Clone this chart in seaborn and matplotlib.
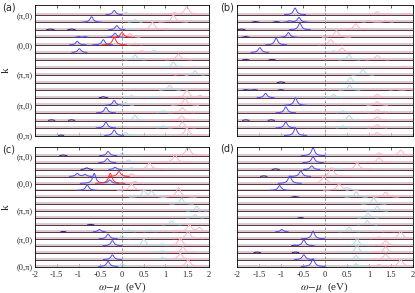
import numpy as np
import pandas as pd
import seaborn as sns
import matplotlib
matplotlib.use("Agg")
import matplotlib.pyplot as plt

sns.set_theme(style="ticks")
plt.rcParams['font.family'] = ['Liberation Serif', 'DejaVu Serif']
plt.rcParams['mathtext.fontset'] = 'stix'

# k-path labels, row 0 is the top row
k_ticks = [16, 12, 8, 4, 0]
k_labels = ['(π,0)', '(0,0)', '(π,π)', '(π,0)', '(0,π)']
x_ticks = [-2, -1.5, -1, -0.5, 0, 0.5, 1, 1.5, 2]
x_labels = ['-2', '-1.5', '-1', '-0.5', '0', '0.5', '1', '1.5', '2']
n_rows = 17

# peaks: (row, centre eV, height in row units)
a_blue = [(0, -0.18, 0.57), (1, -0.70, 0.75), (2, -0.12, 0.57), (3, -0.16, 0.57),
          (3, -1.0, 0.12), (3, -0.85, 0.1), (4, -1.03, 0.48), (4, -0.43, 0.7),
          (5, -0.98, 0.5), (12, -0.18, 0.65), (13, -0.37, 0.75), (15, -0.37, 0.8),
          (16, -0.18, 0.75)]
a_red = [(3, 0.0, 0.65), (4, -0.18, 1.0)]
a_navy = [(2, -1.65, 0.12), (2, -1.16, 0.12), (11, -0.43, 0.15), (14, -1.62, 0.1),
          (14, -1.16, 0.1), (16, -1.4, 0.08)]
a_cyan = [(0, 0.09, 0.35), (1, 0.30, 0.35), (2, 0.2, 0.2), (5, 0.74, 0.3), (6, 0.30, 0.7),
          (7, 1.18, 0.75), (8, 1.68, 0.6), (9, 1.33, 0.15), (10, 1.10, 0.7), (11, 0.22, 0.3),
          (11, 0.7, 0.15), (12, 0.09, 0.4), (13, 0.95, 0.3), (14, 0.30, 0.7), (15, 0.95, 0.3),
          (16, 0.09, 0.4)]
a_pink = [(0, 1.49, 1.1), (0, 1.2, 0.25), (1, 1.18, 0.95), (2, 0.70, 1.0), (3, 0.18, 0.5),
          (4, 0.30, 0.25), (5, 0.45, 0.25), (6, 1.30, 0.8), (7, 1.33, 0.2), (8, 1.35, 0.2),
          (11, 1.49, 1.0), (11, 1.8, 0.3), (12, 1.45, 0.85), (13, 1.39, 0.7), (14, 1.37, 0.6),
          (15, 1.39, 0.8), (16, 1.49, 1.0)]

b_blue = [(0, -0.68, 0.9), (1, -0.59, 0.65), (1, -0.8, 0.2), (2, -0.57, 0.9), (3, -0.83, 0.65),
          (4, -1.11, 0.9), (5, -1.48, 0.65), (11, -1.35, 0.6), (12, -0.67, 1.0),
          (13, -0.89, 0.8), (15, -0.89, 0.8), (16, -0.67, 1.0)]
b_red = []
b_navy = [(1, -1.58, 0.1), (1, -1.1, 0.1), (2, -1.9, 0.12), (3, -1.8, 0.12), (6, -1.8, 0.1),
          (6, -1.2, 0.1), (9, -1.0, 0.12), (10, -1.8, 0.08), (10, -1.6, 0.08), (10, -1.0, 0.08),
          (14, -1.8, 0.1), (14, -1.22, 0.1)]
b_cyan = [(5, 0.2, 0.25), (6, 0.55, 0.75), (8, 0.86, 0.8), (9, 0.58, 0.7), (10, 0.56, 0.7),
          (11, 0.2, 0.45), (13, 0.41, 0.3), (14, 0.55, 0.7), (15, 0.41, 0.3)]
b_pink = [(0, 1.19, 0.4), (0, 1.92, 0.2), (1, 1.0, 0.2), (1, 1.4, 0.2), (2, 0.70, 0.8),
          (3, 0.26, 0.9), (4, 0.13, 0.7), (5, 0.39, 0.6), (6, 1.19, 0.6), (7, 1.8, 0.2),
          (10, 1.6, 0.15), (10, 1.9, 0.15), (11, 1.19, 0.45), (12, 1.19, 0.5), (13, 1.19, 0.45),
          (14, 1.19, 0.5), (15, 1.19, 0.45), (16, 1.19, 0.4)]

c_blue = [(0, -0.32, 0.63), (1, -0.34, 0.6), (2, -0.16, 0.35), (3, -1.03, 0.45),
          (3, -0.85, 0.3), (4, -0.64, 1.45), (4, -0.28, 0.5), (5, -0.8, 0.8),
          (11, -0.52, 0.35), (12, -0.32, 0.7), (13, -0.22, 0.75), (15, -0.22, 0.7),
          (16, -0.32, 0.75)]
c_red = [(3, -0.07, 0.72), (4, -0.27, 1.45)]
c_navy = [(0, -1.35, 0.12), (2, -0.81, 0.25), (10, -0.72, 0.1), (11, -1.35, 0.08)]
c_cyan = [(0, 0.0, 0.4), (1, 0.15, 0.4), (2, 0.22, 0.3), (6, 0.50, 0.95), (6, 0.68, 0.9),
          (7, 1.37, 0.9), (8, 1.72, 0.7), (9, 1.68, 0.5), (10, 1.14, 0.6), (11, 0.15, 0.3),
          (11, 0.65, 0.25), (12, 0.0, 0.45), (13, 0.50, 1.0), (13, 0.93, 0.3), (14, 0.93, 0.3),
          (15, 0.93, 0.3), (16, 0.0, 0.45)]
c_pink = [(0, 1.52, 1.35), (1, 1.22, 1.15), (2, 0.63, 1.0), (3, 0.22, 0.4), (4, 0.3, 0.3),
          (5, 0.22, 0.95), (6, 1.30, 1.4), (8, 1.9, 0.2), (11, 1.55, 1.0), (11, 1.78, 0.6),
          (12, 1.52, 1.1), (13, 1.34, 1.05), (14, 1.40, 0.85), (15, 1.34, 0.9), (16, 1.52, 1.0)]

d_blue = [(0, -0.27, 1.15), (1, -0.27, 0.85), (2, -0.30, 0.55), (3, -0.55, 0.8),
          (4, -0.80, 1.1), (5, -1.03, 0.7), (11, -0.98, 0.35), (12, -0.27, 1.1),
          (13, -0.48, 0.85), (15, -0.48, 0.7), (16, -0.27, 1.15)]
d_red = []
d_navy = [(2, -1.12, 0.12), (3, -1.39, 0.1), (6, -0.68, 0.12), (9, -0.55, 0.08),
          (13, -0.68, 0.1), (14, -1.54, 0.1), (14, -0.67, 0.1)]
d_cyan = [(2, 0.36, 0.2), (5, 0.6, 0.2), (6, 0.71, 0.8), (7, 1.11, 0.95), (8, 1.19, 0.7),
          (9, 0.98, 0.7), (10, 0.96, 0.65), (11, 0.55, 0.7), (13, 0.73, 1.1), (14, 0.73, 1.1),
          (15, 0.71, 0.6), (16, 0.71, 0.4)]
d_pink = [(0, 1.23, 0.4), (0, 1.72, 0.8), (1, 1.23, 0.7), (2, 0.73, 1.0), (3, 0.15, 1.3),
          (4, -0.02, 1.1), (5, 0.32, 0.95), (5, 0.5, 0.3), (6, 1.38, 0.75), (11, 1.45, 0.2),
          (12, 1.72, 1.1), (12, 1.23, 0.3), (13, 1.38, 0.75), (14, 1.38, 0.85), (15, 1.38, 0.8),
          (16, 1.72, 1.0), (16, 1.23, 0.3)]

panels = {
    '(a)': dict(pink=a_pink, cyan=a_cyan, navy=a_navy, blue=a_blue, red=a_red),
    '(b)': dict(pink=b_pink, cyan=b_cyan, navy=b_navy, blue=b_blue, red=b_red),
    '(c)': dict(pink=c_pink, cyan=c_cyan, navy=c_navy, blue=c_blue, red=c_red),
    '(d)': dict(pink=d_pink, cyan=d_cyan, navy=d_navy, blue=d_blue, red=d_red),
}

comp_order = ['pink', 'cyan', 'navy', 'blue', 'red']
palette = {'pink': '#ffb3c6', 'cyan': '#a9dcec', 'navy': '#20208a',
           'blue': '#4b4bf5', 'red': '#ff2b2b'}
widths = {'pink': 0.06, 'cyan': 0.05, 'navy': 0.05, 'blue': 0.045, 'red': 0.05}

w = np.linspace(-2, 2, 801)


def lorentz(x0, h, g):
    return h * g**2 / ((w - x0)**2 + g**2)


def panel_frame(comps):
    # only the part of each curve that rises off its row is kept,
    # the flat rest is the row line drawn separately
    parts = []
    for comp in comp_order:
        for row in range(n_rows):
            peaks = [p for p in comps[comp] if p[0] == row]
            if not peaks:
                continue
            bump = sum(lorentz(x0, h, widths[comp]) for _, x0, h in peaks)
            keep = bump > 0.03
            edges = np.flatnonzero(np.diff(np.r_[0, keep.astype(int), 0]))
            for seg, (i0, i1) in enumerate(zip(edges[::2], edges[1::2])):
                parts.append(pd.DataFrame({
                    'w': w[i0:i1], 'y': n_rows - 1 - row + bump[i0:i1],
                    'unit': row * 100 + seg, 'comp': comp}))
    return pd.concat(parts, ignore_index=True)


fig = plt.figure(figsize=(4.15, 2.93), dpi=100)
boxes = {'(a)': [0.0845, 0.537, 0.419, 0.446], '(b)': [0.571, 0.537, 0.424, 0.446],
         '(c)': [0.0845, 0.090, 0.419, 0.409], '(d)': [0.571, 0.090, 0.424, 0.409]}
label_pos = {'(a)': (0.005, 0.974), '(b)': (0.530, 0.974),
             '(c)': (0.005, 0.491), '(d)': (0.530, 0.494)}

for name, comps in panels.items():
    ax = fig.add_axes(boxes[name])
    df = panel_frame(comps)
    for row in range(n_rows):
        off = n_rows - 1 - row
        ax.axhline(off + 0.13, color='#d2c2c7', lw=1.2, zorder=1)
        ax.axhline(off, color='#5a3040', lw=0.7, zorder=1.5)
    sns.lineplot(data=df, x='w', y='y', hue='comp', units='unit', estimator=None,
                 hue_order=comp_order, palette=palette, legend=False, lw=0.7,
                 sort=False, ax=ax, zorder=2)
    ax.axvline(0, color='#888888', ls=(0, (3, 2)), lw=0.6, zorder=4)
    ax.set_xlim(-2, 2)
    ax.set_ylim(0, 17.3)
    ax.set_xticks(x_ticks)
    ax.set_yticks(k_ticks)
    ax.tick_params(axis='x', direction='in', top=True, length=2, width=0.5,
                   labelsize=6, pad=3)
    ax.tick_params(axis='y', length=0, labelsize=6, pad=2)
    for s in ax.spines.values():
        s.set_linewidth(0.6)
        s.set_color('black')
        s.set_zorder(5)
    ax.set_ylabel('')
    if name in ('(a)', '(c)'):
        ax.set_yticklabels(k_labels)
        ax.set_ylabel('k', fontsize=8, labelpad=4)
    else:
        ax.set_yticklabels([])
    if name in ('(c)', '(d)'):
        ax.set_xticklabels(x_labels)
        ax.set_xlabel(r'$\omega\!-\!\mu$  (eV)', fontsize=8, labelpad=1)
    else:
        ax.set_xticklabels([])
        ax.set_xlabel('')
    fig.text(*label_pos[name], name, fontsize=7, family=['DejaVu Sans'],
             ha='left', va='center')

fig.savefig('out.png', dpi=100)
